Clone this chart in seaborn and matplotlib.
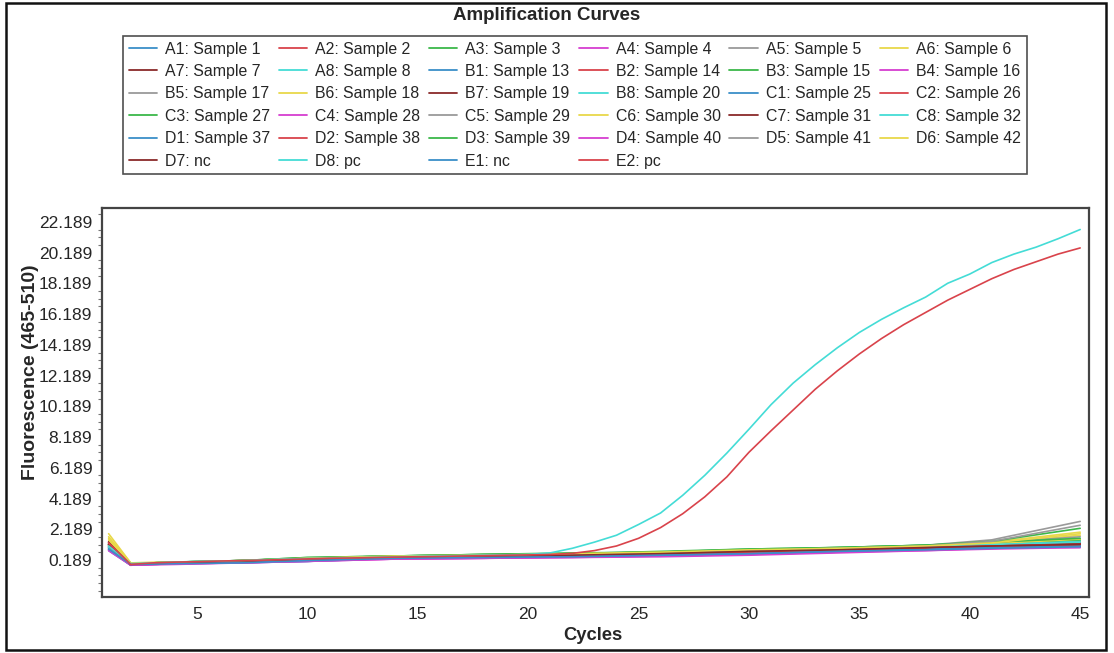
import numpy as np
import pandas as pd
import matplotlib
matplotlib.use("Agg")
import matplotlib.pyplot as plt
import seaborn as sns
from matplotlib.lines import Line2D
from matplotlib.patches import Rectangle
from matplotlib.ticker import AutoMinorLocator, FixedLocator, FormatStrFormatter

# wells in legend order (row by row, as on the instrument export)
wells = ["A1", "A2", "A3", "A4", "A5", "A6",
         "A7", "A8", "B1", "B2", "B3", "B4",
         "B5", "B6", "B7", "B8", "C1", "C2",
         "C3", "C4", "C5", "C6", "C7", "C8",
         "D1", "D2", "D3", "D4", "D5", "D6",
         "D7", "D8", "E1", "E2"]
samples = ["Sample 1", "Sample 2", "Sample 3", "Sample 4", "Sample 5", "Sample 6",
           "Sample 7", "Sample 8", "Sample 13", "Sample 14", "Sample 15", "Sample 16",
           "Sample 17", "Sample 18", "Sample 19", "Sample 20", "Sample 25", "Sample 26",
           "Sample 27", "Sample 28", "Sample 29", "Sample 30", "Sample 31", "Sample 32",
           "Sample 37", "Sample 38", "Sample 39", "Sample 40", "Sample 41", "Sample 42",
           "nc", "pc", "nc", "pc"]
well_colors = ["#3a8fc8", "#d9434b", "#3cb84a", "#d63ed0",
               "#9a9a9a", "#e8d84a", "#8a2a2a", "#44dcd6"]

# negative / flat wells, read at a few cycles
base_cycles = [1, 2, 4, 7, 10, 14, 18, 22, 26, 30, 34, 38, 41, 45]
A1 = [1.0, -0.1, 0.0, 0.05, 0.2, 0.35, 0.4, 0.5, 0.55, 0.7, 0.8, 0.95, 1.1, 1.2]
A2 = [1.3, -0.05, 0.05, 0.1, 0.25, 0.4, 0.45, 0.55, 0.6, 0.75, 0.9, 1.0, 1.15, 1.3]
A3 = [1.1, -0.1, 0.0, 0.15, 0.3, 0.45, 0.5, 0.6, 0.7, 0.85, 0.95, 1.1, 1.25, 1.5]
A4 = [0.9, -0.15, -0.05, 0.0, 0.15, 0.25, 0.3, 0.4, 0.45, 0.55, 0.7, 0.85, 0.95, 1.05]
A5 = [1.2, -0.05, 0.05, 0.1, 0.25, 0.4, 0.5, 0.55, 0.65, 0.8, 0.95, 1.15, 1.5, 2.7]
A6 = [1.9, 0.0, 0.05, 0.15, 0.3, 0.4, 0.5, 0.6, 0.7, 0.8, 0.95, 1.1, 1.35, 2.0]
A7 = [1.4, -0.1, 0.0, 0.1, 0.25, 0.4, 0.5, 0.6, 0.65, 0.8, 0.9, 1.05, 1.2, 1.3]
A8 = [1.0, -0.05, 0.05, 0.15, 0.3, 0.45, 0.5, 0.6, 0.7, 0.8, 0.95, 1.05, 1.2, 1.4]
B1 = [0.8, -0.15, -0.05, 0.0, 0.1, 0.3, 0.35, 0.45, 0.5, 0.6, 0.75, 0.9, 1.0, 1.1]
B2 = [1.2, -0.1, 0.0, 0.1, 0.3, 0.4, 0.45, 0.5, 0.6, 0.75, 0.85, 1.0, 1.1, 1.25]
B3 = [1.1, -0.05, 0.05, 0.15, 0.3, 0.45, 0.55, 0.6, 0.7, 0.85, 1.0, 1.15, 1.4, 2.25]
B4 = [1.0, -0.1, -0.05, 0.05, 0.15, 0.3, 0.35, 0.4, 0.45, 0.6, 0.7, 0.85, 1.0, 1.0]
B5 = [1.1, -0.1, 0.0, 0.1, 0.25, 0.35, 0.45, 0.5, 0.6, 0.75, 0.9, 1.05, 1.2, 1.4]
B6 = [1.6, -0.05, 0.05, 0.1, 0.25, 0.4, 0.45, 0.55, 0.65, 0.8, 0.9, 1.05, 1.25, 1.8]
B7 = [1.3, -0.1, 0.0, 0.1, 0.3, 0.4, 0.5, 0.55, 0.65, 0.8, 0.95, 1.05, 1.2, 1.3]
B8 = [1.1, -0.05, 0.05, 0.1, 0.3, 0.45, 0.5, 0.6, 0.65, 0.85, 0.95, 1.1, 1.25, 1.45]
C1 = [0.9, -0.1, -0.05, 0.05, 0.15, 0.3, 0.4, 0.45, 0.5, 0.65, 0.8, 0.9, 1.05, 1.15]
C2 = [1.2, -0.1, 0.0, 0.15, 0.3, 0.4, 0.45, 0.55, 0.6, 0.8, 0.85, 1.0, 1.15, 1.3]
C3 = [1.2, -0.05, 0.05, 0.15, 0.35, 0.45, 0.55, 0.6, 0.75, 0.9, 1.0, 1.15, 1.3, 1.5]
C4 = [0.9, -0.15, -0.05, 0.0, 0.1, 0.25, 0.3, 0.35, 0.45, 0.55, 0.7, 0.8, 0.95, 1.05]
C5 = [1.2, -0.1, 0.0, 0.1, 0.25, 0.4, 0.45, 0.55, 0.6, 0.75, 0.9, 1.1, 1.3, 1.7]
C6 = [1.5, -0.05, 0.05, 0.1, 0.3, 0.4, 0.5, 0.55, 0.65, 0.8, 0.95, 1.1, 1.25, 1.55]
C7 = [1.3, -0.15, 0.0, 0.1, 0.25, 0.4, 0.45, 0.55, 0.6, 0.75, 0.9, 1.0, 1.15, 1.25]
C8 = [1.0, -0.1, 0.0, 0.1, 0.3, 0.4, 0.5, 0.55, 0.65, 0.8, 0.9, 1.05, 1.2, 1.35]
D1 = [0.9, -0.1, -0.05, 0.05, 0.1, 0.3, 0.35, 0.45, 0.5, 0.6, 0.75, 0.85, 1.0, 1.1]
D2 = [1.1, -0.1, 0.0, 0.1, 0.25, 0.35, 0.45, 0.5, 0.6, 0.7, 0.85, 1.0, 1.1, 1.2]
D3 = [1.2, -0.05, 0.05, 0.15, 0.35, 0.45, 0.55, 0.65, 0.7, 0.9, 1.0, 1.15, 1.35, 1.6]
D4 = [0.8, -0.15, -0.1, 0.0, 0.1, 0.25, 0.3, 0.35, 0.4, 0.5, 0.65, 0.8, 0.9, 1.0]
D5 = [1.2, -0.05, 0.05, 0.1, 0.3, 0.4, 0.5, 0.55, 0.65, 0.8, 0.95, 1.1, 1.4, 2.45]
D6 = [1.7, 0.0, 0.05, 0.15, 0.3, 0.45, 0.5, 0.6, 0.7, 0.85, 0.95, 1.1, 1.3, 1.9]
D7 = [1.2, -0.1, 0.0, 0.1, 0.25, 0.35, 0.45, 0.5, 0.6, 0.75, 0.85, 1.0, 1.1, 1.2]
E1 = [0.9, -0.1, -0.05, 0.0, 0.15, 0.3, 0.35, 0.4, 0.5, 0.6, 0.75, 0.85, 0.95, 1.05]

# positive controls, every cycle
cycles = list(range(1, 46))
D8 = [1.1, -0.05, 0.0, 0.05, 0.1, 0.12, 0.15, 0.2, 0.25, 0.28,
      0.3, 0.33, 0.36, 0.4, 0.43, 0.45, 0.47, 0.5, 0.52, 0.55,
      0.65, 0.95, 1.35, 1.8, 2.5, 3.25, 4.4, 5.7, 7.15, 8.7,
      10.3, 11.7, 12.9, 14.0, 15.0, 15.85, 16.6, 17.3, 18.2, 18.8,
      19.55, 20.1, 20.55, 21.1, 21.7]
E2 = [1.3, -0.1, 0.0, 0.05, 0.08, 0.12, 0.15, 0.18, 0.22, 0.26,
      0.3, 0.32, 0.35, 0.38, 0.4, 0.42, 0.45, 0.47, 0.5, 0.52,
      0.55, 0.62, 0.8, 1.1, 1.6, 2.3, 3.2, 4.3, 5.6, 7.2,
      8.6, 9.95, 11.3, 12.5, 13.6, 14.6, 15.5, 16.3, 17.1, 17.8,
      18.5, 19.1, 19.6, 20.1, 20.5]

series = {"A1": A1, "A2": A2, "A3": A3, "A4": A4, "A5": A5, "A6": A6, "A7": A7, "A8": A8,
          "B1": B1, "B2": B2, "B3": B3, "B4": B4, "B5": B5, "B6": B6, "B7": B7, "B8": B8,
          "C1": C1, "C2": C2, "C3": C3, "C4": C4, "C5": C5, "C6": C6, "C7": C7, "C8": C8,
          "D1": D1, "D2": D2, "D3": D3, "D4": D4, "D5": D5, "D6": D6, "D7": D7, "D8": D8,
          "E1": E1, "E2": E2}

rows = []
for w in wells:
    xs = cycles if w in ("D8", "E2") else base_cycles
    for c, v in zip(xs, series[w]):
        rows.append((w, c, v))
df = pd.DataFrame(rows, columns=["well", "cycle", "fluor"])

palette = {w: well_colors[i % 8] for i, w in enumerate(wells)}

sns.set_style("white")
plt.rcParams["font.family"] = ["Liberation Sans", "DejaVu Sans"]

fig = plt.figure(figsize=(11.14, 6.53), dpi=100)
ax = fig.add_axes([102 / 1114, 1 - 597 / 653, 987 / 1114, 389 / 653])

sns.lineplot(data=df, x="cycle", y="fluor", hue="well", hue_order=wells,
             palette=palette, estimator=None, legend=False, linewidth=1.2, ax=ax)

ax.set_xlim(0.7, 45.4)
ax.set_ylim(-2.22, 23.1)
ax.set_xticks([5, 10, 15, 20, 25, 30, 35, 40, 45])
ax.yaxis.set_major_locator(FixedLocator([0.189 + 2 * k for k in range(12)]))
ax.yaxis.set_major_formatter(FormatStrFormatter("%.3f"))
ax.yaxis.set_minor_locator(AutoMinorLocator(4))
ax.tick_params(axis="y", which="major", direction="out", length=6, width=1,
               color="#555555", labelsize=12.5, pad=1)
ax.tick_params(axis="y", which="minor", direction="out", length=3, width=0.8,
               color="#777777", left=True)
ax.tick_params(axis="x", which="major", direction="inout", length=8, width=1,
               color="#777777", labelsize=12.5, pad=3)
for s in ax.spines.values():
    s.set_color("#444444")
    s.set_linewidth(1.6)

ax.set_xlabel("Cycles", fontsize=13.2, fontweight="bold")
ax.set_ylabel("Fluorescence (465-510)", fontsize=14, fontweight="bold")
ax.yaxis.set_label_coords(-0.064, 0.578)
ax.xaxis.set_label_coords(0.4975, -0.078)

# legend, filled row by row like the original
handles = [Line2D([0], [0], color=palette[w], lw=1.3) for w in wells]
labels = [f"{w}: {s}" for w, s in zip(wells, samples)]
order = [r * 6 + j for j in range(6) for r in range(6) if r * 6 + j < len(wells)]
leg = fig.legend([handles[i] for i in order], [labels[i] for i in order],
                 loc="upper left", bbox_to_anchor=(123 / 1114, 1 - 36 / 653),
                 ncol=6, fontsize=11.4, frameon=True, fancybox=False,
                 edgecolor="#222222", handlelength=1.8, handletextpad=0.5,
                 columnspacing=0.55, labelspacing=0.47, borderpad=0.35,
                 borderaxespad=0)
leg.get_frame().set_linewidth(1.2)

fig.text(0.491, 1 - 15 / 653, "Amplification Curves", ha="center", va="center",
         fontsize=13.5, fontweight="bold")

fig.patches.append(Rectangle((6 / 1114, 3 / 653), 1100 / 1114, 647 / 653,
                             transform=fig.transFigure, fill=False,
                             edgecolor="#111111", linewidth=1.8))

fig.savefig("out.png", dpi=100)
